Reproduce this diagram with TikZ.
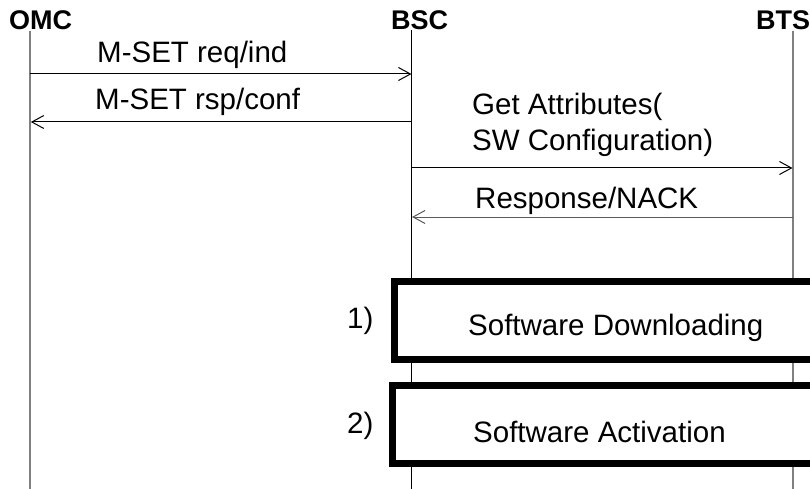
\documentclass[tikz,border=0pt]{standalone}
\usepackage{fontspec}
\setmainfont{Liberation Sans}
\usetikzlibrary{arrows.meta}
\definecolor{lgray}{RGB}{128,128,128}
\definecolor{mgray}{RGB}{90,90,90}
\begin{document}
\begin{tikzpicture}[x=1pt,y=-1pt,
  hdr/.style={anchor=base west,inner sep=0pt,font=\fontsize{27}{32}\selectfont\bfseries},
  lbl/.style={anchor=base west,inner sep=0pt,font=\fontsize{29.5}{36}\selectfont},
  lifeline/.style={line width=1pt},
  msg/.style={line width=1pt,-{Straight Barb[length=12pt,width=13pt,line width=1pt]}},
  swbox/.style={draw,line width=7pt,fill=white,rectangle,outer sep=0pt,inner sep=0pt,
     anchor=north west,minimum width=450pt,minimum height=78pt}
]
\useasboundingbox (0,0) rectangle (810,489);
\clip (0,0) rectangle (810,489);
\fill[white] (0,0) rectangle (810,489);
% headers
\node[hdr] (omc) at (9,30) {OMC};
\node[hdr] (bsc) at (391,29.5) {BSC};
\node[hdr] (bts) at (756,30) {BTS};
% lifeline coordinates
\coordinate (omcT) at (30,31);
\coordinate (omcB) at (30,489);
\coordinate (bscT) at (411.5,30);
\coordinate (bscB) at (411.5,489);
\coordinate (btsT) at (793,31);
\coordinate (btsB) at (793,489);
\draw[lifeline,lgray,line width=1.6pt] (omcT) -- (omcB);
\draw[lifeline,black] (bscT) -- (bscB);
\draw[lifeline,lgray,line width=1.6pt] (btsT) -- (btsB);
% message endpoints
\coordinate (m1a) at (30,74);   \coordinate (m1b) at (411.5,74);
\coordinate (m2a) at (411.5,122); \coordinate (m2b) at (30.8,122);
\coordinate (m3a) at (411.5,168); \coordinate (m3b) at (792.5,168);
\coordinate (m4a) at (793,217); \coordinate (m4b) at (412,217);
\draw[msg] (m1a) -- (m1b);
\draw[msg] (m2a) -- (m2b);
\draw[msg] (m3a) -- (m3b);
\draw[msg,mgray] (m4a) -- (m4b);
% labels
\node[lbl] (t1) at (97,63) {M-SET req/ind};
\node[lbl] (t2) at (95,110) {M-SET rsp/conf};
\node[lbl] (t3) at (472,115) {Get Attributes(};
\node[lbl] (t3b) at (472,150) {SW Configuration)};
\node[lbl] (t4) at (475,208) {Response/NACK};
% boxes
\node[swbox] (dl) at (394.5,281.5) {};
\node[swbox] (act) at (392.5,385) {};
\node[lbl] (n1) at (347,328) {1)};
\node[lbl] (n2) at (347,433) {2)};
\node[lbl] (dlt) at (468,335) {Software Downloading};
\node[lbl] (actt) at (473,442) {Software Activation};
\end{tikzpicture}
\end{document}
